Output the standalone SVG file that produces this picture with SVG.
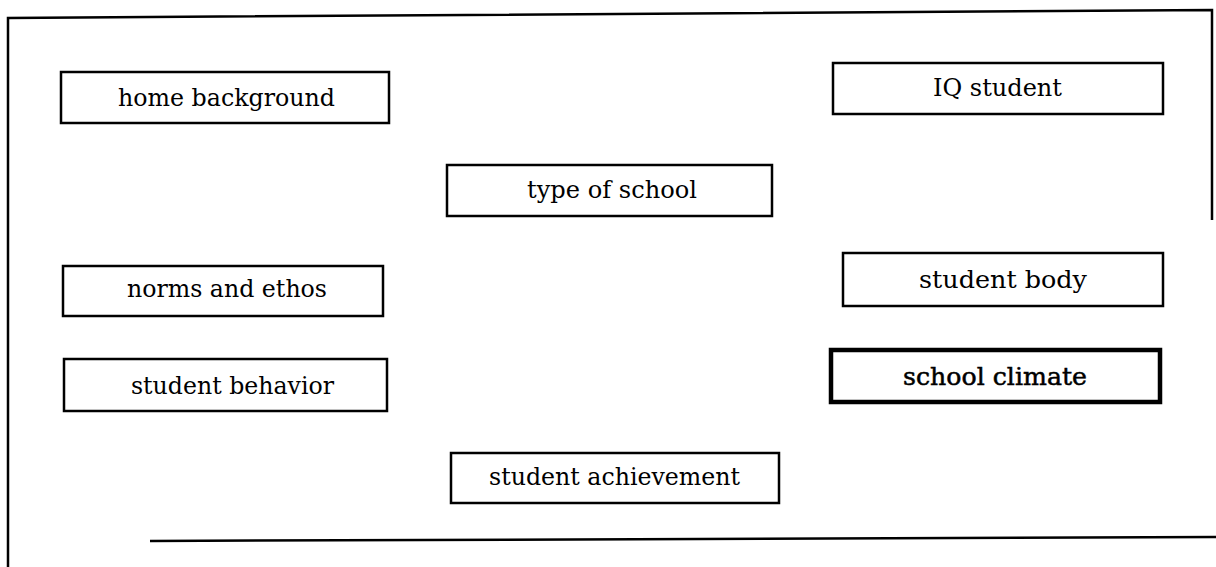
<svg xmlns="http://www.w3.org/2000/svg" width="1216" height="567" viewBox="0 0 1216 567">
<style>
.box{fill:#fff;stroke:#000;stroke-width:2.5}
.thick{stroke-width:4.5}
.lbl{font-family:"DejaVu Serif","Liberation Serif",serif;font-size:25px;fill:#000}
.frame{fill:none;stroke:#000;stroke-width:2.5}
</style>
<rect width="1216" height="567" fill="#fff"/>
<g id="frame">
<polyline class="frame" points="1212,220 1212,10 8,18 8,567"/>
<line class="frame" x1="150" y1="541" x2="1216" y2="537"/>
</g>
<g id="connectors"></g>
<g id="home-background"><rect class="box" x="61" y="72" width="328" height="51"/><text class="lbl" x="118" y="106" textLength="217" lengthAdjust="spacingAndGlyphs">home background</text></g>
<g id="iq-student"><rect class="box" x="833" y="63" width="330" height="51"/><text class="lbl" x="933" y="96" textLength="129" lengthAdjust="spacingAndGlyphs">IQ student</text></g>
<g id="type-of-school"><rect class="box" x="447" y="165" width="325" height="51"/><text class="lbl" x="527" y="198" textLength="170" lengthAdjust="spacingAndGlyphs">type of school</text></g>
<g id="norms-and-ethos"><rect class="box" x="63" y="266" width="320" height="50"/><text class="lbl" x="127" y="297" textLength="200" lengthAdjust="spacingAndGlyphs">norms and ethos</text></g>
<g id="student-behavior"><rect class="box" x="64" y="359" width="323" height="52"/><text class="lbl" x="131" y="394" textLength="203" lengthAdjust="spacingAndGlyphs">student behavior</text></g>
<g id="student-body"><rect class="box" x="843" y="253" width="320" height="53"/><text class="lbl" x="919" y="288" textLength="168" lengthAdjust="spacingAndGlyphs">student body</text></g>
<g id="school-climate"><rect class="box thick" x="831" y="350" width="329" height="52"/><text class="lbl" x="903" y="385" textLength="184" lengthAdjust="spacingAndGlyphs" style="stroke:#000;stroke-width:0.5">school climate</text></g>
<g id="student-achievement"><rect class="box" x="451" y="453" width="328" height="50"/><text class="lbl" x="489" y="485" textLength="251" lengthAdjust="spacingAndGlyphs">student achievement</text></g>
</svg>
